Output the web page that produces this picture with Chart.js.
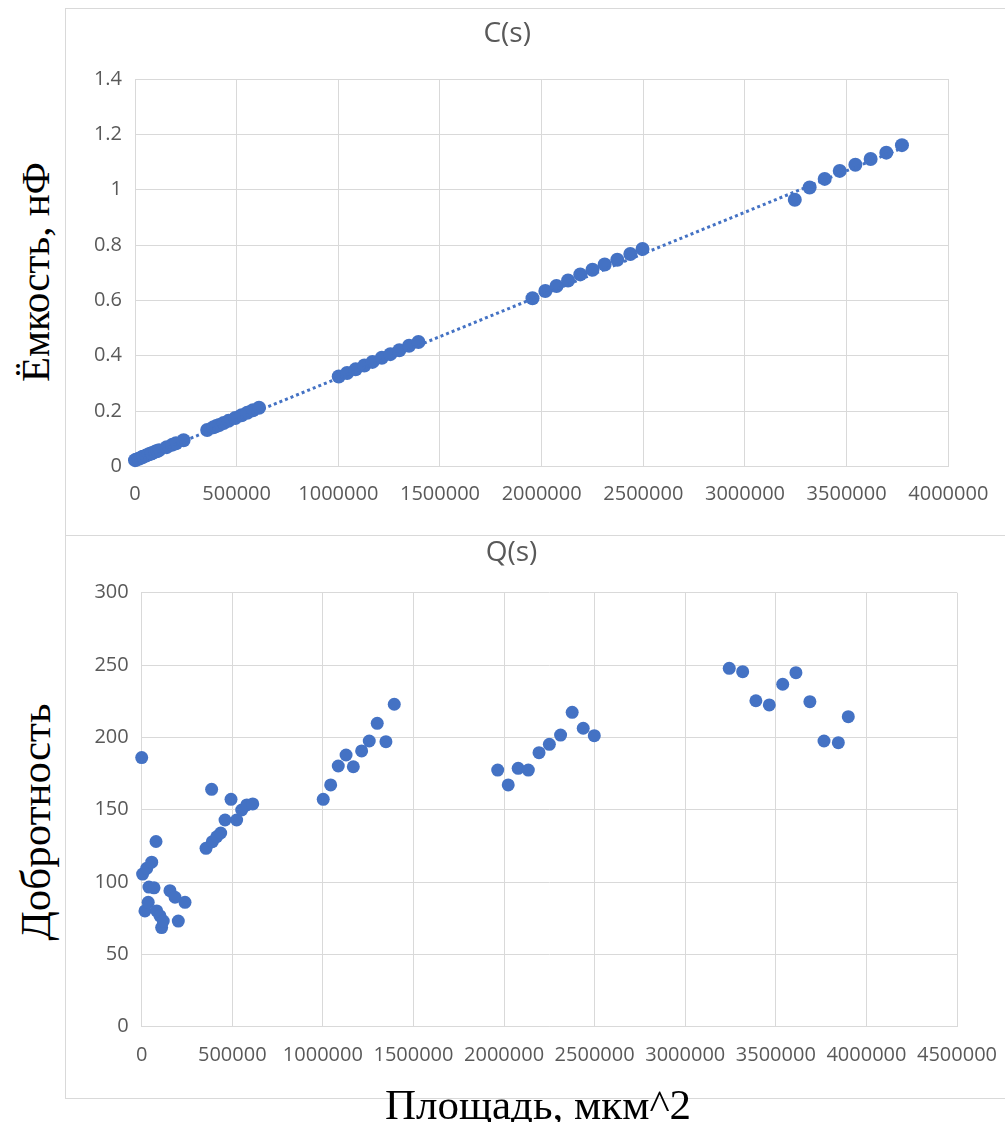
<!DOCTYPE html>
<html>
<head>
<meta charset="utf-8">
<script src="https://cdn.jsdelivr.net/npm/chart.js@4.4.1/dist/chart.umd.min.js"></script>
<style>
  html, body { margin: 0; padding: 0; background: #fff; overflow: hidden; }
  body { width: 1005px; height: 1122px; position: relative; }
  .box { position: absolute; left: 65px; width: 960px; border: 1px solid #d9d9d9; background: #fff; }
  #boxC { top: 8px; height: 526px; }
  #boxQ { top: 535px; height: 562px; }
  .box canvas { position: absolute; left: 0; top: 0; }
  .axis-title {
    position: absolute;
    font-family: "Liberation Serif", "Times New Roman", serif;
    font-size: 43px;
    color: #000;
    white-space: nowrap;
    transform: translate(-50%, -50%);
  }
  .vertical { transform: translate(-50%, -50%) rotate(-90deg); }
</style>
</head>
<body>
<div class="box" id="boxC"><canvas id="capChart" width="940" height="526"></canvas></div>
<div class="box" id="boxQ"><canvas id="qChart" width="940" height="562"></canvas></div>
<div class="axis-title vertical" style="left:35px; top:272px; font-size:41px;">Ёмкость, нФ</div>
<div class="axis-title vertical" style="left:35px; top:822px;">Добротность</div>
<div class="axis-title" style="left:538px; top:1104px;">Площадь, мкм^2</div>

<script>
// --- data ---
const capX = [
  0, 5000, 18000, 28000, 36000, 40000, 55000, 68000, 79000, 83000, 101000, 110000, 119000, 156000, 184000, 202000, 239000,
  355000, 386000, 400000, 414000, 436000, 460000, 493000, 524000, 552000, 580000, 610000,
  1002000, 1043000, 1085000, 1128000, 1168000, 1214000, 1256000, 1300000, 1348000, 1394000,
  1955000, 2018000, 2073000, 2130000, 2190000, 2250000, 2310000, 2372000, 2436000, 2496000,
  3245000, 3318000, 3392000, 3466000, 3543000, 3618000, 3695000, 3772000,
];
const capC = [
  0.023, 0.024, 0.028, 0.031, 0.034, 0.035, 0.040, 0.044, 0.047, 0.048, 0.054, 0.056, 0.059, 0.070, 0.079, 0.084, 0.095,
  0.132, 0.142, 0.146, 0.150, 0.157, 0.165, 0.175, 0.185, 0.194, 0.203, 0.212,
  0.325, 0.338, 0.351, 0.365, 0.378, 0.393, 0.406, 0.420, 0.436, 0.450,
  0.608, 0.634, 0.652, 0.672, 0.694, 0.711, 0.730, 0.747, 0.768, 0.786,
  0.964, 1.008, 1.039, 1.068, 1.090, 1.111, 1.134, 1.161,
];
const trendX = [0, 3772000];
const trendC = [0.02, 1.15];
const capXTicks = [0, 500000, 1000000, 1500000, 2000000, 2500000, 3000000, 3500000, 4000000];
const capYTicks = [0, 0.2, 0.4, 0.6, 0.8, 1, 1.2, 1.4];

const qX = [
  0, 5000, 18000, 27600, 36000, 40000, 55200, 68000, 79000, 83000, 101000, 110000, 119000, 156000, 184000, 202000, 239000,
  355000, 386000, 390000, 414000, 436000, 460000, 493000, 524000, 552000, 580000, 613000,
  1002000, 1043000, 1085000, 1128000, 1168000, 1214000, 1256000, 1300000, 1348000, 1394000,
  1965000, 2023000, 2078000, 2134000, 2193000, 2250000, 2312000, 2376000, 2437000, 2498000,
  3243000, 3317000, 3390000, 3464000, 3538000, 3611000, 3688000, 3766000, 3845000, 3900000,
];
const qVal = [
  186, 105.5, 80, 109.5, 86, 96.5, 113.7, 96, 128, 80, 76.6, 68.5, 73, 94, 89.5, 73, 86,
  123.3, 164.1, 127.9, 131.3, 133.9, 142.9, 157.2, 142.9, 149.8, 153.3, 154,
  157.2, 167.1, 180.2, 187.8, 179.7, 190.6, 197.5, 209.7, 197, 222.9,
  177.4, 167.1, 178.6, 177.4, 189.4, 195.2, 201.6, 217.3, 206.3, 201.2,
  247.7, 245.4, 225.3, 222.4, 236.7, 244.7, 224.7, 197.5, 196.3, 214.3,
];
const qXTicks = [0, 500000, 1000000, 1500000, 2000000, 2500000, 3000000, 3500000, 4000000, 4500000];
const qYTicks = [0, 50, 100, 150, 200, 250, 300];

// --- styling ---
const BLUE = "#4472C4";
const GRID = "#d9d9d9";
const TEXT = "#595959";
Chart.defaults.font.family = '"Open Sans", sans-serif';
Chart.defaults.color = TEXT;

function linearAxis(ticks, fit, pad, horizontal) {
  return {
    type: "linear",
    min: ticks[0],
    max: ticks[ticks.length - 1],
    afterBuildTicks: (scale) => {
      scale.ticks = ticks.map((v) => ({ value: v }));
    },
    afterFit: (scale) => {
      // fixed plot box: the outer padding alone decides where the axes sit
      if (horizontal) scale.height = fit;
      else scale.width = fit;
      scale.paddingLeft = 0;
      scale.paddingRight = 0;
      scale.paddingTop = 0;
      scale.paddingBottom = 0;
    },
    grid: { color: GRID, drawTicks: false },
    border: { color: GRID },
    ticks: {
      padding: pad,
      font: { size: 20 },
      color: TEXT,
      autoSkip: false,
      maxRotation: 0,
      callback: (v) => String(v),
    },
  };
}

function pairs(xs, ys) {
  return xs.map((x, i) => ({ x: x, y: ys[i] }));
}

function titleOpts(text, top, bottom) {
  return {
    display: true,
    text: text,
    color: TEXT,
    font: { size: 28, weight: "normal" },
    padding: { top: top, bottom: bottom },
  };
}

new Chart(document.getElementById("capChart"), {
  type: "scatter",
  data: {
    datasets: [
      {
        data: pairs(trendX, trendC),
        showLine: true,
        pointRadius: 0,
        borderColor: BLUE,
        borderWidth: 3,
        borderDash: [3, 3],
        clip: false,
      },
      {
        data: pairs(capX, capC),
        backgroundColor: BLUE,
        borderWidth: 0,
        pointRadius: 7,
        clip: false,
      },
    ],
  },
  options: {
    responsive: false,
    animation: false,
    layout: { padding: { top: 0, left: 0, right: 57.7, bottom: 0 } },
    plugins: {
      legend: { display: false },
      tooltip: { enabled: false },
      title: titleOpts("C(s)", 8.2, 28.2),
    },
    scales: {
      x: linearAxis(capXTicks, 68.5, 16, true),
      y: linearAxis(capYTicks, 69, 13, false),
    },
  },
});

new Chart(document.getElementById("qChart"), {
  type: "scatter",
  data: {
    datasets: [
      {
        data: pairs(qX, qVal),
        backgroundColor: BLUE,
        borderWidth: 0,
        pointRadius: 6.5,
        clip: false,
      },
    ],
  },
  options: {
    responsive: false,
    animation: false,
    layout: { padding: { top: 0, left: 0, right: 49, bottom: 0 } },
    plugins: {
      legend: { display: false },
      tooltip: { enabled: false },
      title: titleOpts("Q(s)", 0, 23.1),
    },
    scales: {
      x: linearAxis(qXTicks, 71.3, 17, true),
      y: linearAxis(qYTicks, 75.7, 13, false),
    },
  },
});
</script>
</body>
</html>
